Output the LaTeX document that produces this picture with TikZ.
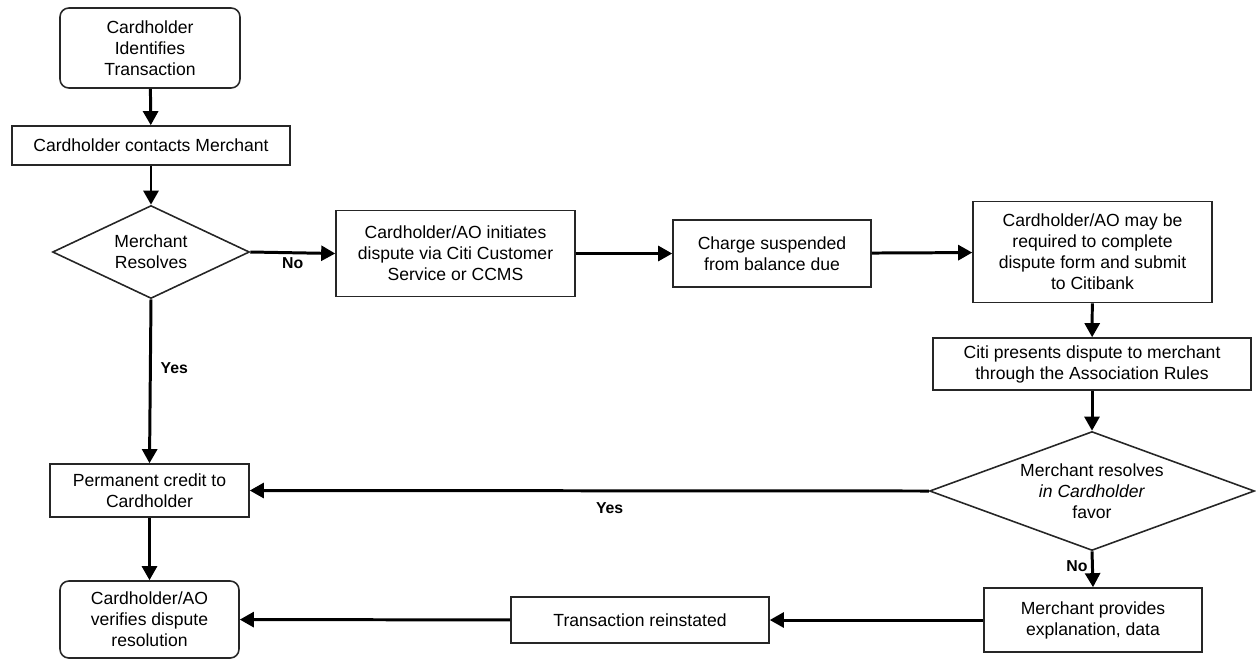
\documentclass[tikz,border=0pt]{standalone}
\usepackage{fontspec}
\setmainfont{Liberation Sans}
\usetikzlibrary{shapes.geometric,arrows.meta}
\tikzset{fl/.style={line width=1.7pt, -{Triangle[length=8pt,width=8.5pt]}}}

\begin{document}
\begin{tikzpicture}[x=0.02cm, y=-0.02cm,
box/.style={rectangle, draw=black!85, line width=0.9pt, align=center, inner sep=2pt, font=\fontsize{10}{12}\selectfont},
term/.style={box, rounded corners=5pt},
dec/.style={diamond, draw=black!85, line width=0.9pt, align=center, aspect=2.6, inner sep=0pt, font=\fontsize{10}{12}\selectfont},
lbl/.style={font=\bfseries\fontsize{9}{11}\selectfont, inner sep=2pt},
]
\useasboundingbox (0,0) rectangle (1256,660);
\node[term, minimum width=3.6cm, minimum height=1.6cm] (ident) at(150,48) {Cardholder\\Identifies\\Transaction};
\node[box, minimum width=5.56cm, minimum height=0.78cm] (contact) at(151,145.5) {Cardholder contacts Merchant};
\node[dec, minimum width=3.94cm, minimum height=1.86cm] (resolve) at(151,252) {Merchant\\Resolves};
\node[box, minimum width=4.78cm, minimum height=1.72cm] (dispute) at(455.5,253.5) {Cardholder/AO initiates\\dispute via Citi Customer\\Service or CCMS};
\node[box, minimum width=3.96cm, minimum height=1.34cm] (suspend) at(772,253.5) {Charge suspended\\from balance due};
\node[box, minimum width=4.78cm, minimum height=2.02cm] (form) at(1092.5,252) {Cardholder/AO may be\\required to complete\\dispute form and submit\\to Citibank};
\node[box, minimum width=6.36cm, minimum height=1.04cm] (present) at(1092,364) {Citi presents dispute to merchant\\through the Association Rules};
\node[dec, minimum width=6.5cm, minimum height=2.38cm] (favor) at(1092,491) {Merchant resolves\\\textit{in Cardholder}\\favor};
\node[box, minimum width=4.36cm, minimum height=1.28cm] (explain) at(1093,620) {Merchant provides\\explanation, data};
\node[box, minimum width=5.16cm, minimum height=0.92cm] (reinst) at(640,620) {Transaction reinstated};
\node[box, minimum width=3.98cm, minimum height=1.06cm] (credit) at(149.5,490.5) {Permanent credit to\\Cardholder};
\node[term, minimum width=3.58cm, minimum height=1.54cm] (verify) at(149.5,619.5) {Cardholder/AO\\verifies dispute\\resolution};

\draw[fl] (ident) -- (contact);
\draw[fl] (contact) -- (resolve);
\draw[fl] (resolve.east) -- node[lbl, below, pos=0.5] (no1) {No} (dispute.west);
\draw[fl] (dispute) -- (suspend);
\draw[fl] (suspend) -- (form);
\draw[fl] (form) -- (present);
\draw[fl] (present) -- (favor);
\draw[fl] (favor.south) -- node[lbl, left, pos=0.4] (no2) {No} (explain.north);
\draw[fl] (favor.west) -- node[lbl, below, pos=0.47, yshift=-4pt] (yes2) {Yes} (credit.east);
\draw[fl] (resolve.south) -- node[lbl, right, pos=0.42, xshift=3pt] (yes1) {Yes} (credit.north);
\draw[fl] (credit) -- (verify);
\draw[fl] (explain) -- (reinst);
\draw[fl] (reinst) -- (verify);
\end{tikzpicture}
\end{document}
